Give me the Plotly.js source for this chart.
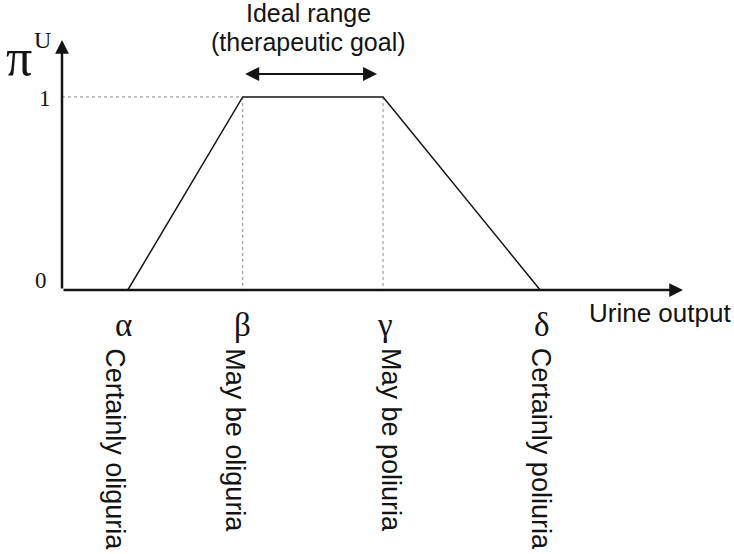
<!DOCTYPE html>
<html>
<head>
<meta charset="utf-8">
<script src="https://cdn.plot.ly/plotly-3.0.1.min.js"></script>
<style>
  html, body { margin: 0; padding: 0; background: #ffffff; }
  #chart { width: 734px; height: 554px; }
</style>
</head>
<body>
<div id="chart"></div>
<script>
// Trapezoidal membership function for urine output
const breakpointNames = ['α', 'β', 'γ', 'δ'];
const breakpointX = [1.06, 2.91, 5.17, 7.70];
const membership = [0, 1, 1, 0];
const zoneLabels = ['Certainly oliguria', 'May be oliguria', 'May be poliuria', 'Certainly poliuria'];
const yTickValues = [0, 1];
const yTickLabels = ['0', '1'];
const xAxisTitle = 'Urine output';
const yAxisSymbol = 'π';
const yAxisSuperscript = 'U';
const goalLines = ['Ideal range', '(therapeutic goal)'];

const X_MAX = 10;
const Y_MAX = 1.295;
const SANS = 'Liberation Sans, Arial, Helvetica, sans-serif';
const SERIF = 'Liberation Serif, Times New Roman, serif';
const INK = '#141414';

const beta = breakpointX[1];
const gamma = breakpointX[2];

// Dotted guides from the plateau to the axes
const guides = {
  x: [0, beta, null, beta, beta, null, gamma, gamma],
  y: [1, 1, null, 1, 0, null, 1, 0],
  mode: 'lines',
  line: { color: '#8a8a8a', width: 1, dash: 'dot' },
  hoverinfo: 'skip',
  connectgaps: false
};

const trapezoid = {
  x: breakpointX,
  y: membership,
  mode: 'lines',
  line: { color: INK, width: 1.5 },
  hoverinfo: 'skip'
};

const annotations = [];

// Axis arrows
annotations.push({
  x: X_MAX, y: 0, ax: 0, ay: 0, xref: 'x', yref: 'y', axref: 'x', ayref: 'y',
  text: '', showarrow: true, arrowhead: 2, arrowsize: 1.1, arrowwidth: 2.5,
  arrowcolor: INK, standoff: 0
});
annotations.push({
  x: 0, y: Y_MAX, ax: 0, ay: 0, xref: 'x', yref: 'y', axref: 'x', ayref: 'y',
  text: '', showarrow: true, arrowhead: 2, arrowsize: 1.1, arrowwidth: 2.5,
  arrowcolor: INK, standoff: 0
});

// Double-headed arrow over the plateau
annotations.push({
  x: gamma, y: 1.119, ax: beta, ay: 1.119, xref: 'x', yref: 'y', axref: 'x', ayref: 'y',
  text: '', showarrow: true, arrowhead: 2, startarrowhead: 2, arrowside: 'end+start',
  arrowsize: 1.4, startarrowsize: 1.4, arrowwidth: 2, arrowcolor: INK,
  standoff: 6, startstandoff: 1
});

// Goal caption
const goalShift = [84, 55];
goalLines.forEach((t, i) => {
  annotations.push({
    x: (beta + gamma) / 2, y: 1, xref: 'x', yref: 'y', text: t, showarrow: false,
    xanchor: 'center', yanchor: 'middle', xshift: -4, yshift: goalShift[i],
    borderpad: 0,
    font: { family: SANS, size: 25, color: INK }
  });
});

// Y axis symbol
annotations.push({
  x: 0, y: 1, xref: 'x', yref: 'y', text: yAxisSymbol, showarrow: false,
  xanchor: 'center', yanchor: 'middle', xshift: -43, yshift: 39,
  font: { family: SERIF, size: 52, color: INK }
});
annotations.push({
  x: 0, y: 1, xref: 'x', yref: 'y', text: yAxisSuperscript, showarrow: false,
  xanchor: 'center', yanchor: 'middle', xshift: -20, yshift: 57,
  font: { family: SERIF, size: 24, color: INK }
});

// Y tick labels
const tickShift = [{ dx: -21, dy: 9.5 }, { dx: -17, dy: -2 }];
yTickValues.forEach((v, i) => {
  annotations.push({
    x: 0, y: v, xref: 'x', yref: 'y', text: yTickLabels[i], showarrow: false,
    xanchor: 'center', yanchor: 'middle', xshift: tickShift[i].dx, yshift: tickShift[i].dy,
    font: { family: SERIF, size: 23, color: INK }
  });
});

// X axis title
annotations.push({
  x: X_MAX, y: 0, xref: 'x', yref: 'y', text: xAxisTitle, showarrow: false,
  xanchor: 'center', yanchor: 'middle', xshift: -23, yshift: -23,
  font: { family: SANS, size: 26, color: INK }
});

// Breakpoint symbols and zone descriptions
const symbolShift = [-4, 0, 2, 2];
const zoneShift = [-13, -8, 8, 1];
breakpointX.forEach((bx, i) => {
  annotations.push({
    x: bx, y: 0, xref: 'x', yref: 'y', text: breakpointNames[i], showarrow: false,
    xanchor: 'center', yanchor: 'middle', xshift: symbolShift[i], yshift: -35,
    font: { family: SERIF, size: 33, color: INK }
  });
  annotations.push({
    x: bx, y: 0, xref: 'x', yref: 'y', text: zoneLabels[i], showarrow: false,
    textangle: 90, xanchor: 'center', yanchor: 'top', xshift: zoneShift[i], yshift: -56,
    font: { family: SANS, size: 27, color: INK }
  });
});

const layout = {
  width: 734,
  height: 554,
  margin: { l: 62, r: 51, t: 40, b: 264, pad: 0 },
  paper_bgcolor: '#ffffff',
  plot_bgcolor: '#ffffff',
  showlegend: false,
  xaxis: { range: [0, X_MAX], visible: false, fixedrange: true },
  yaxis: { range: [0, Y_MAX], visible: false, fixedrange: true },
  annotations: annotations
};

Plotly.newPlot('chart', [guides, trapezoid], layout, { staticPlot: true, displayModeBar: false });
</script>
</body>
</html>
